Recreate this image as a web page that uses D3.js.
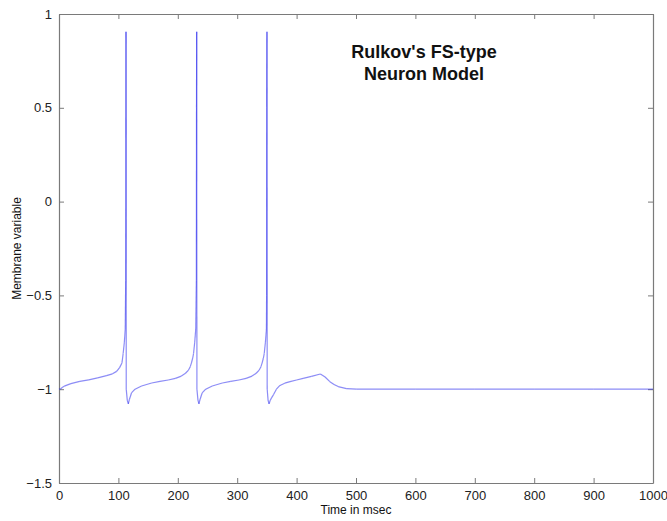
<!DOCTYPE html>
<html>
<head>
<meta charset="utf-8">
<script src="https://cdn.jsdelivr.net/npm/d3@7/dist/d3.min.js"></script>
<style>
  html, body { margin: 0; padding: 0; background: #fff; }
  svg { display: block; font-family: "Liberation Sans", Arial, sans-serif; }
</style>
</head>
<body>
<svg id="chart" width="667" height="521"></svg>
<script>
// Simulated membrane trace (time in msec, membrane variable)
const timeMs = [
  0, 3, 6, 10, 20, 35, 50, 65, 80, 90, 97, 102, 106, 108, 110, 111.5, 112.3, 112.6, 112.8,
  113.2, 115, 116.7, 118.5, 122, 128, 139, 156, 170, 184, 196, 206, 213, 218, 221, 223, 225, 226.5, 228.5, 230.2, 231.2, 231.5, 231.8,
  232.2, 234, 235.6, 237.4, 241, 247, 258, 275, 289, 303, 315, 325, 332, 337, 340, 342, 344, 345.5, 347.5, 349.2, 349.5, 349.8, 350.1,
  350.5, 352, 353.6, 355.5, 358, 361, 366, 372, 380, 389, 400, 411, 425, 440, 448, 456, 463, 470, 484, 501, 600, 700, 800, 900, 1000
];
const membrane = [
  -1.0, -0.998, -0.99, -0.982, -0.97, -0.958, -0.95, -0.94, -0.928, -0.918, -0.905, -0.885, -0.86, -0.81, -0.75, -0.68, -0.42, -0.05, 0.905,
  -1.0, -1.06, -1.078, -1.055, -1.02, -1.0, -0.983, -0.967, -0.958, -0.951, -0.942, -0.93, -0.915, -0.898, -0.88, -0.86, -0.835, -0.81, -0.75, -0.68, -0.42, 0.5, 0.905,
  -1.0, -1.06, -1.078, -1.055, -1.02, -1.0, -0.983, -0.967, -0.958, -0.951, -0.942, -0.93, -0.915, -0.898, -0.88, -0.86, -0.835, -0.81, -0.75, -0.68, -0.5, 0.5, 0.905,
  -1.0, -1.06, -1.078, -1.06, -1.045, -1.03, -1.0, -0.98, -0.968, -0.96, -0.951, -0.942, -0.932, -0.919, -0.935, -0.96, -0.975, -0.986, -0.997, -1.0, -1.0, -1.0, -1.0, -1.0, -1.0
];

const xTicks = [0, 100, 200, 300, 400, 500, 600, 700, 800, 900, 1000];
const yTicks = [-1.5, -1, -0.5, 0, 0.5, 1];
const titleLines = ["Rulkov's FS-type", "Neuron Model"];

const svg = d3.select("#chart");
const plot = { left: 59, right: 653, top: 14, bottom: 483 };

const x = d3.scaleLinear().domain([0, 1000]).range([plot.left, plot.right]);
const y = d3.scaleLinear().domain([-1.5, 1]).range([plot.bottom, plot.top]);

const axisColor = "#7a7a7a";
const tickLen = 5;

function styleAxis(g) {
  g.selectAll(".domain").attr("stroke", axisColor).attr("stroke-width", 1.2);
  g.selectAll(".tick line").attr("stroke", axisColor);
  g.selectAll(".tick text").attr("fill", "#222").attr("font-size", 13);
}

// bottom axis with labels, ticks pointing inward
svg.append("g")
  .attr("transform", `translate(0,${plot.bottom})`)
  .call(d3.axisBottom(x).tickValues(xTicks).tickSizeInner(-tickLen).tickSizeOuter(0).tickPadding(8).tickFormat(d3.format("d")))
  .call(styleAxis);

// top frame
svg.append("g")
  .attr("transform", `translate(0,${plot.top})`)
  .call(d3.axisTop(x).tickValues(xTicks).tickSizeInner(-tickLen).tickSizeOuter(0).tickFormat(""))
  .call(styleAxis);

// left axis with labels
svg.append("g")
  .attr("transform", `translate(${plot.left},0)`)
  .call(d3.axisLeft(y).tickValues(yTicks).tickSizeInner(-tickLen).tickSizeOuter(0).tickPadding(7).tickFormat(d3.format("")))
  .call(styleAxis);

// right frame
svg.append("g")
  .attr("transform", `translate(${plot.right},0)`)
  .call(d3.axisRight(y).tickValues(yTicks).tickSizeInner(-tickLen).tickSizeOuter(0).tickFormat(""))
  .call(styleAxis);

// trace, drawn segment by segment so overlapping strokes on the spikes read darker
const pts = timeMs.map((t, i) => [t, membrane[i]]);
const segs = d3.pairs(pts);
svg.append("g")
  .selectAll("line")
  .data(segs)
  .join("line")
  .attr("x1", d => x(d[0][0]))
  .attr("y1", d => y(d[0][1]))
  .attr("x2", d => x(d[1][0]))
  .attr("y2", d => y(d[1][1]))
  .attr("stroke", "#1a1aee")
  .attr("stroke-opacity", 0.5)
  .attr("stroke-width", 1.2)
  .attr("stroke-linecap", "butt");

// axis titles
svg.append("text")
  .attr("x", (plot.left + plot.right) / 2)
  .attr("y", 514)
  .attr("text-anchor", "middle")
  .attr("font-size", 12)
  .attr("fill", "#111")
  .text("Time in msec");

svg.append("text")
  .attr("transform", `translate(21,${(plot.top + plot.bottom) / 2}) rotate(-90)`)
  .attr("text-anchor", "middle")
  .attr("font-size", 12)
  .attr("fill", "#111")
  .text("Membrane variable");

// title
svg.append("g")
  .selectAll("text")
  .data(titleLines)
  .join("text")
  .attr("x", 424)
  .attr("y", (d, i) => 58 + i * 22)
  .attr("text-anchor", "middle")
  .attr("font-size", 18)
  .attr("font-weight", "bold")
  .attr("fill", "#111")
  .text(d => d);
</script>
</body>
</html>
